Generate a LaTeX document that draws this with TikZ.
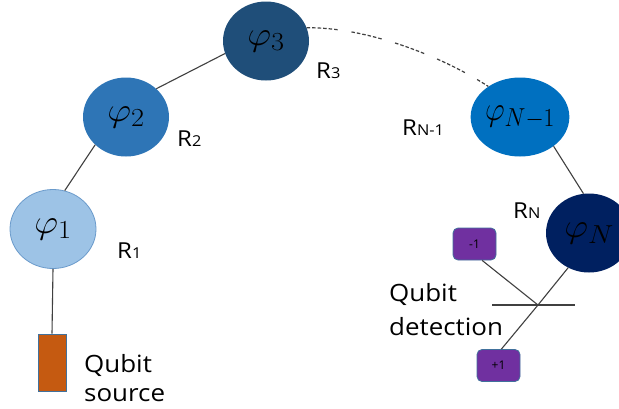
\RequirePackage{fix-cm}
\documentclass[tikz,border=0pt]{standalone}
\usepackage[no-math]{fontspec}
\setmainfont{Open Sans}
\usepackage{graphicx}
\usetikzlibrary{shapes.geometric,calc}
\DeclareMathSizes{34}{34}{26}{19}
\definecolor{cA}{HTML}{9DC3E6}
\definecolor{cAb}{HTML}{6A9ACB}
\definecolor{cB}{HTML}{2E75B6}
\definecolor{cC}{HTML}{1F4E79}
\definecolor{cD}{HTML}{0070C0}
\definecolor{cE}{HTML}{002060}
\definecolor{srcfill}{HTML}{C55A11}
\definecolor{bord}{HTML}{41719C}
\definecolor{purp}{HTML}{7030A0}
\definecolor{linegray}{HTML}{404040}
\newcommand{\sx}[1]{\scalebox{1.09}[1]{#1}}
\newcommand{\phil}[1]{\sx{\fontsize{34}{40}\selectfont$\varphi_{#1}$}}
\newcommand{\rlab}[1]{\sx{\fontsize{22}{26}\selectfont R{\fontsize{15}{18}\selectfont #1}}}
\begin{document}
\begin{tikzpicture}[x=1pt,y=-1pt,
  phi/.style={ellipse, minimum width=86pt, minimum height=79pt, inner sep=0pt},
  conn/.style={draw=linegray, line width=1.1pt},
  lab/.style={inner sep=0pt, anchor=base west},
  pm/.style={rectangle, rounded corners=5pt, fill=purp, draw=bord, line width=0.8pt,
    minimum width=43pt, minimum height=32pt, inner sep=0pt,
    font=\fontsize{12}{14}\selectfont},
  dots/.style={dash pattern=on 3.5pt off 2pt on 3.5pt off 2pt on 3.5pt off 2pt on 3.5pt off 2pt on 3.5pt off 2pt on 3.5pt off 14pt}
]
\clip (0,0) rectangle (619,408);
\useasboundingbox (0,0) rectangle (619,408);
\fill[white] (0,0) rectangle (619,408);

% circles
\node[phi, fill=cA, draw=cAb, line width=0.8pt] (p1) at (53,229) {\phil{1}};
\node[phi, fill=cB] (p2) at (126,117) {\phil{2}};
\node[phi, fill=cC] (p3) at (266,41) {\phil{3}};
\node[phi, fill=cD] (pN1) at (520,117) {\scalebox{0.9}[1]{\fontsize{34}{40}\selectfont$\varphi_{N-1}$}};
\node[phi, fill=cE] (pN) at (589,233) {\phil{N}};

% source
\node[rectangle, fill=srcfill, draw=bord, line width=0.8pt, minimum width=28pt,
  minimum height=57pt, inner sep=0pt] (src) at (52,362.5) {};

% detection boxes
\node[pm] (minus) at (474.5,244) {-1};
\node[pm] (plus) at (498.5,365.5) {+1};

\coordinate (X) at (538,305);
\coordinate (hl) at (492,305);
\coordinate (hr) at (575,305);

% connectors
\draw[conn] (p1.south) -- (src.north);
\draw[conn] (p1.73) -- (p2.222);
\draw[conn] (p2.43) -- (p3.197);
\draw[draw=linegray, line width=1.2pt, dots] (p3.18) .. controls (365,27) and (440,55) .. (pN1.136);
\draw[conn] (pN1.-41) -- (pN.98);
\draw[conn] (pN.239) -- (X) -- (plus.80);
\draw[conn] (minus.-65) -- (X);
\draw[conn] (hl) -- (hr);

% labels
\node[lab] (r1) at (117,258) {\rlab{1}};
\node[lab] (r2) at (177,146) {\rlab{2}};
\node[lab] (r3) at (316,78) {\rlab{3}};
\node[lab] (rn1) at (402,135) {\rlab{N-1}};
\node[lab] (rn) at (513,218) {\rlab{N}};

\node[lab] (srclab) at (84,372) {\sx{\fontsize{23.8}{29}\selectfont\begin{tabular}[t]{@{}l@{}}Qubit\\source\end{tabular}}};
\node[lab] (detlab) at (389,301) {\sx{\fontsize{23.8}{34}\selectfont\begin{tabular}[t]{@{}l@{}}Qubit\\detection\end{tabular}}};
\end{tikzpicture}
\end{document}
